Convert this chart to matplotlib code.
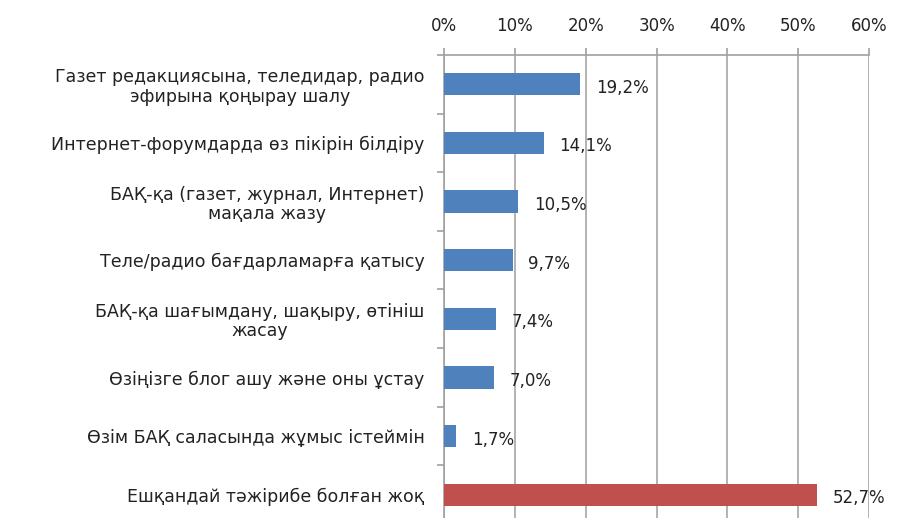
import matplotlib.pyplot as plt
import numpy as np

categories = [
    "Газет редакциясына, теледидар, радио\nэфирына қоңырау шалу",
    "Интернет-форумдарда өз пікірін білдіру",
    "БАҚ-қа (газет, журнал, Интернет)\nмақала жазу",
    "Теле/радио бағдарламарға қатысу",
    "БАҚ-қа шағымдану, шақыру, өтініш\nжасау",
    "Өзіңізге блог ашу және оны ұстау",
    "Өзім БАҚ саласында жұмыс істеймін",
    "Ешқандай тәжірибе болған жоқ",
]
values = [19.2, 14.1, 10.5, 9.7, 7.4, 7.0, 1.7, 52.7]
colors = ["#4F81BD"] * 7 + ["#C0504D"]
xticks = [0, 10, 20, 30, 40, 50, 60]

fig = plt.figure(figsize=(8.97, 5.18), dpi=100)
ax = fig.add_axes([0.495, -0.0116, 0.474, 0.9056])

y = np.arange(len(categories))
ax.barh(y, values, height=0.38, color=colors, zorder=3)
ax.set_ylim(len(categories) - 0.5, -0.5)
ax.set_xlim(0, 60)

for yi, v in zip(y, values):
    ax.text(v + 2.2, yi + 0.06, f"{v:.1f}%".replace(".", ","), va="center",
            ha="left", fontsize=12, color="#222222")

ax.xaxis.tick_top()
ax.set_xticks(xticks)
ax.set_xticklabels([f"{t}%" for t in xticks], fontsize=12, color="#222222")
ax.tick_params(axis="x", length=5, color="#A0A0A0", width=1.2, pad=9)
ax.grid(axis="x", color="#A6A6A6", linewidth=1.2, zorder=0)

ax.set_yticks(y)
ax.set_yticklabels(categories, fontsize=12.5, color="#222222",
                   multialignment="center", linespacing=1.1)
ax.set_yticks(np.arange(len(categories) + 1) - 0.5, minor=True)
ax.tick_params(axis="y", which="major", length=0, pad=14)
ax.tick_params(axis="y", which="minor", length=5, color="#A0A0A0", width=1.2)

for s in ["right", "bottom"]:
    ax.spines[s].set_visible(False)
for s in ["top", "left"]:
    ax.spines[s].set_color("#A0A0A0")
    ax.spines[s].set_linewidth(1.2)

fig.savefig("out.png", dpi=100)
